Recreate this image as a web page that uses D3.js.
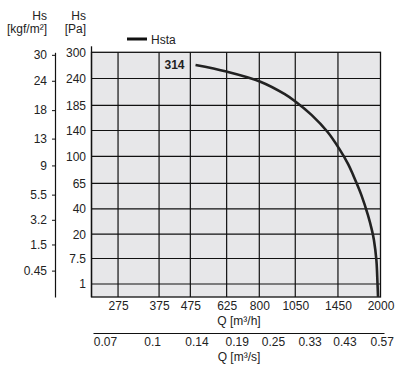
<!DOCTYPE html>
<html>
<head>
<meta charset="utf-8">
<script src="https://cdn.jsdelivr.net/npm/d3@7"></script>
<style>
  body { margin: 0; background: #fff; }
  svg { font-family: "Liberation Sans", Arial, Helvetica, sans-serif; }
  .tick text { fill: #222; }
</style>
</head>
<body>
<div id="chart"></div>
<script>
// tick labels
const paTicks = [1, 7.5, 20, 40, 65, 100, 140, 185, 240, 300];
const kgfTicks = [0.45, 1.5, 3.2, 5.5, 9, 13, 18, 24, 30];
const qhTicks = [275, 375, 475, 625, 800, 1050, 1450, 2000];
const qsTicks = [0.07, 0.1, 0.14, 0.19, 0.25, 0.33, 0.43, 0.57];

// Hsta curve (Q in m3/h, Hs in Pa)
const qHsta = [494, 624, 803, 970, 1051, 1187, 1339, 1463, 1566, 1625, 1731, 1819, 1875, 1903, 1939, 1955, 1963];
const paHsta = [271, 256, 234, 208, 193, 168, 138, 112, 90, 76, 53.5, 35, 23, 17, 7, 1.2, 0];
const curveLabel = "314";

const W = 405, H = 373;
const plot = {left: 91.5, right: 380.5, top: 52.3, bottom: 297};
// row lines are not quite evenly spaced in the original
const rowY = [297, 284, 258.5, 234.2, 208.9, 183.3, 156.4, 130.5, 105.4, 78.5, 52.3];
const fs = "12px";

const svg = d3.select("#chart")
  .append("svg")
    .attr("width", W)
    .attr("height", H);

// x: log scale in m3/h
const x = d3.scaleLog()
  .domain([225, 2000])
  .range([plot.left, plot.right]);

// y: piecewise linear between labelled rows
const y = d3.scaleLinear()
  .domain([0].concat(paTicks))
  .range(rowY);

// second x axis in m3/s
const xs = d3.scaleLog()
  .domain([0.0639, 0.58])
  .range([93, 384]);

// plot background
svg.append("rect")
  .attr("x", plot.left)
  .attr("y", plot.top)
  .attr("width", plot.right - plot.left)
  .attr("height", plot.bottom - plot.top)
  .style("fill", "#e7e7e9");

// grid
svg.append("g")
  .selectAll("line")
  .data(qhTicks.slice(0, -1))
  .join("line")
    .attr("x1", d => x(d)).attr("x2", d => x(d))
    .attr("y1", plot.top).attr("y2", plot.bottom)
    .style("stroke", "#111").style("stroke-width", 1.2);

svg.append("g")
  .selectAll("line")
  .data(paTicks.slice(0, -1))
  .join("line")
    .attr("x1", plot.left).attr("x2", plot.right)
    .attr("y1", d => y(d)).attr("y2", d => y(d))
    .style("stroke", "#111").style("stroke-width", 1.2);

svg.append("rect")
  .attr("x", plot.left)
  .attr("y", plot.top)
  .attr("width", plot.right - plot.left)
  .attr("height", plot.bottom - plot.top)
  .style("fill", "none")
  .style("stroke", "#111")
  .style("stroke-width", 1.3);

// left axis line sticks out above the plot
svg.append("line")
  .attr("x1", plot.left).attr("x2", plot.left)
  .attr("y1", plot.top - 6).attr("y2", plot.bottom)
  .style("stroke", "#111").style("stroke-width", 1.3);

// Pa axis
const paAxis = svg.append("g")
  .attr("transform", `translate(${plot.left},0)`)
  .call(d3.axisLeft(y).tickValues(paTicks).tickSize(0).tickPadding(5.5).tickFormat(d => d));
paAxis.select(".domain").remove();
paAxis.selectAll("text").style("font-size", fs);

// kgf/m2 axis, same scale converted
const yKgf = y.copy().domain(y.domain().map(d => d / 9.80665));
const kgfAxis = svg.append("g")
  .attr("transform", "translate(55,0)")
  .call(d3.axisLeft(yKgf).tickValues(kgfTicks).tickSize(3).tickSizeOuter(0).tickPadding(5).tickFormat(d => d));
kgfAxis.select(".domain").style("stroke", "#111").style("stroke-width", 1.2);
kgfAxis.selectAll("line").style("stroke", "#111");
kgfAxis.selectAll("text").style("font-size", fs);

// Q [m3/h] axis
const qhAxis = svg.append("g")
  .attr("transform", `translate(0,${plot.bottom})`)
  .call(d3.axisBottom(x).tickValues(qhTicks).tickSize(0).tickPadding(4.5).tickFormat(d => d));
qhAxis.select(".domain").remove();
qhAxis.selectAll("text").style("font-size", fs);

// Q [m3/s] axis
const qsAxis = svg.append("g")
  .attr("transform", "translate(0,333)")
  .call(d3.axisBottom(xs).tickValues(qsTicks).tickSize(0).tickSizeOuter(0).tickPadding(4.5).tickFormat(d => d));
qsAxis.select(".domain").style("stroke", "#111").style("stroke-width", 1.2);
qsAxis.selectAll("text").style("font-size", fs);

// axis titles
svg.append("text")
  .attr("x", 239).attr("y", 325)
  .style("text-anchor", "middle").style("font-size", fs).style("fill", "#222")
  .text("Q [m³/h]");

svg.append("text")
  .attr("x", 239).attr("y", 361)
  .style("text-anchor", "middle").style("font-size", fs).style("fill", "#222")
  .text("Q [m³/s]");

[["Hs", 19.5], ["[kgf/m²]", 33]].forEach(function(t) {
  svg.append("text")
    .attr("x", 47).attr("y", t[1])
    .style("text-anchor", "end").style("font-size", fs).style("fill", "#222")
    .text(t[0]);
});
[["Hs", 19.5], ["[Pa]", 33]].forEach(function(t) {
  svg.append("text")
    .attr("x", 86).attr("y", t[1])
    .style("text-anchor", "end").style("font-size", fs).style("fill", "#222")
    .text(t[0]);
});

// curve
const curveData = qHsta.map((q, i) => ({q: q, pa: paHsta[i]}));
svg.append("path")
  .datum(curveData)
  .attr("d", d3.line()
    .x(d => x(d.q))
    .y(d => y(d.pa))
    .curve(d3.curveCatmullRom.alpha(0.5)))
  .style("fill", "none")
  .style("stroke", "#222")
  .style("stroke-width", 2.6);

svg.append("text")
  .attr("x", x(qHsta[0]) - 21).attr("y", y(paHsta[0]) + 4)
  .style("text-anchor", "middle").style("font-size", fs).style("font-weight", "bold").style("fill", "#222")
  .text(curveLabel);

// legend
svg.append("line")
  .attr("x1", 127).attr("x2", 147)
  .attr("y1", 39).attr("y2", 39)
  .style("stroke", "#111").style("stroke-width", 3);
svg.append("text")
  .attr("x", 151).attr("y", 43.5)
  .style("font-size", fs).style("fill", "#222")
  .text("Hsta");
</script>
</body>
</html>
